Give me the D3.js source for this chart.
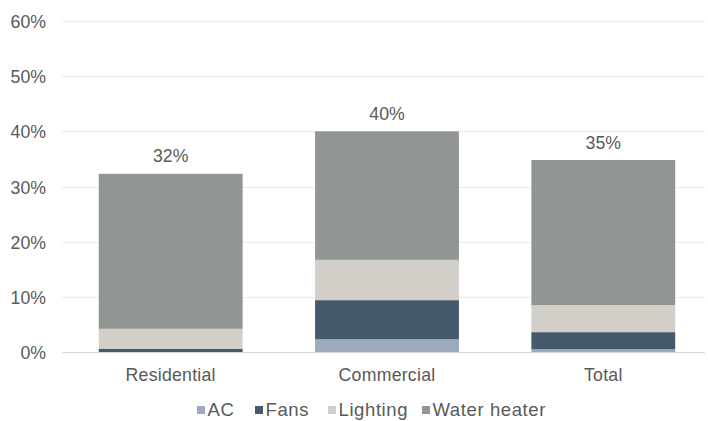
<!DOCTYPE html>
<html><head><meta charset="utf-8">
<script src="https://cdn.jsdelivr.net/npm/d3@7"></script>
<style>body{margin:0;background:#fff}svg{display:block}text{font-family:"Liberation Sans",Arial,sans-serif;fill:#595959}</style>
</head><body><svg id="c" width="708" height="421"></svg>
<script>
const categories = ["Residential", "Commercial", "Total"];
const seriesNames = ["AC", "Fans", "Lighting", "Water heater"];
const acValues = [0.0, 2.3, 0.5];
const fansValues = [0.6, 7.1, 3.1];
const lightingValues = [3.6, 7.3, 4.9];
const waterHeaterValues = [28.1, 23.3, 26.3];
const totalLabels = ["32%", "40%", "35%"];
const yTicks = [0, 10, 20, 30, 40, 50, 60];
const colors = ["#9daabb", "#44596a", "#d1cfc7", "#929692"];

(function () {
const svg = d3.select("#c");
const mLeft = 62, mRight = 708, mTop = 21, mBottom = 352;
const x = d3.scaleBand().domain(categories).range([mLeft, mRight + 4]).paddingInner(0.335).paddingOuter(0.17);
const y = d3.scaleLinear().domain([0, 60]).range([mBottom, mTop]);

const rows = categories.map((c, i) => ({cat: c, "AC": acValues[i], "Fans": fansValues[i], "Lighting": lightingValues[i], "Water heater": waterHeaterValues[i]}));
const stack = d3.stack().keys(seriesNames)(rows);

svg.append("g").selectAll("line").data(yTicks).join("line")
  .attr("x1", mLeft).attr("x2", 705).attr("y1", d => Math.round(y(d)) + 0.5).attr("y2", d => Math.round(y(d)) + 0.5)
  .attr("stroke", d => d === 0 ? "#d9d9d9" : "#ececec").attr("stroke-width", 1);

svg.append("g").selectAll("text").data(yTicks).join("text")
  .attr("x", 46).attr("y", d => y(d)).attr("dy", "0.4em").attr("text-anchor", "end")
  .attr("font-size", 17.7).text(d => d + "%");

svg.append("g").selectAll("g").data(stack).join("g").attr("fill", (d, i) => colors[i])
  .selectAll("rect").data(d => d).join("rect")
  .attr("x", d => x(d.data.cat)).attr("width", x.bandwidth())
  .attr("y", d => y(d[1])).attr("height", d => Math.max(0, y(d[0]) - y(d[1])));

const totals = rows.map(r => seriesNames.reduce((s, k) => s + r[k], 0));
svg.append("g").selectAll("text").data(categories).join("text")
  .attr("x", d => x(d) + x.bandwidth() / 2).attr("y", (d, i) => y(totals[i]) - 11.5)
  .attr("text-anchor", "middle").attr("font-size", 17.7).text((d, i) => totalLabels[i]);

svg.append("g").selectAll("text").data(categories).join("text")
  .attr("x", d => x(d) + x.bandwidth() / 2).attr("y", 381)
  .attr("text-anchor", "middle").attr("font-size", 17.7).attr("letter-spacing", 0.25).text(d => d);

const legendX = [197, 255, 328, 422];
const lg = svg.append("g").selectAll("g").data(seriesNames).join("g")
  .attr("transform", (d, i) => `translate(${legendX[i]},410)`);
lg.append("rect").attr("x", 0).attr("y", -4).attr("width", 8).attr("height", 8).attr("fill", (d, i) => colors[i]);
lg.append("text").attr("x", 10.5).attr("y", 6.3).attr("font-size", 18.5).attr("letter-spacing", 0.6).text(d => d);
})();
</script></body></html>
